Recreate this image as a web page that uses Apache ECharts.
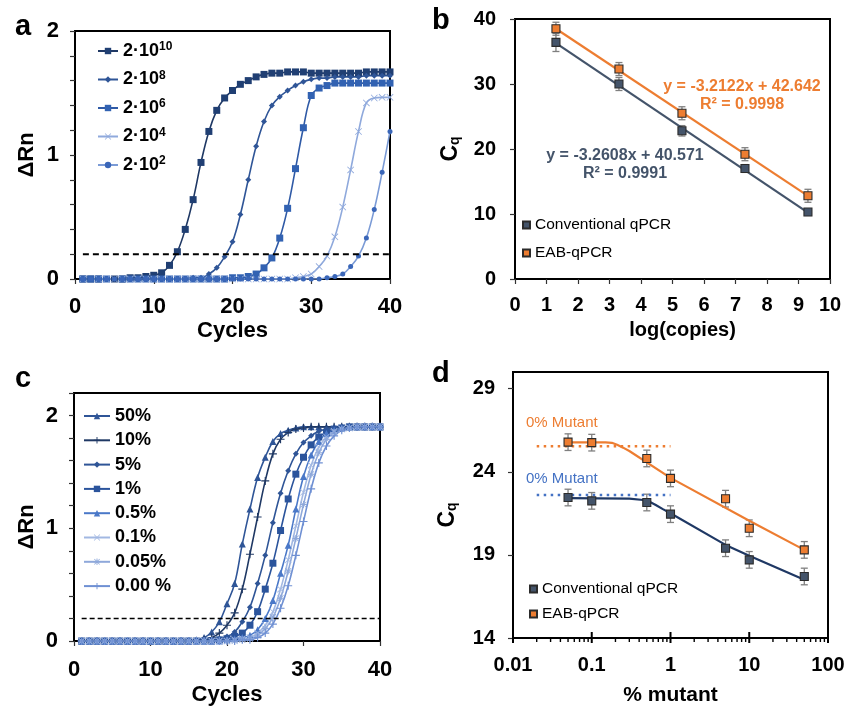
<!DOCTYPE html>
<html>
<head>
<meta charset="utf-8">
<script src="https://cdn.jsdelivr.net/npm/echarts@6/dist/echarts.min.js"></script>
<style>
  html, body { margin: 0; padding: 0; background: #fff; }
  #chart { width: 861px; height: 707px; }
</style>
</head>
<body>
<div id="chart"></div>
<script>
// ---- panel a : amplification curves, serial dilutions ----
const cycles = [1,2,3,4,5,6,7,8,9,10,11,12,13,14,15,16,17,18,19,20,
                21,22,23,24,25,26,27,28,29,30,31,32,33,34,35,36,37,38,39,40];
const aNames = ['2·10^10', '2·10^8', '2·10^6', '2·10^4', '2·10^2'];
const a10 = [0.00,0.00,0.00,-0.01,0.00,0.00,0.01,0.01, 0.02,0.03,0.05,0.11,0.22,0.40,0.64,0.94,
             1.19,1.36,1.46,1.52,1.57,1.60,1.63,1.65, 1.66,1.66,1.67,1.67,1.67,1.66,1.66,1.66,
             1.66,1.66,1.66,1.66,1.67,1.67,1.67,1.67];
const a8  = [0.00,0.00,-0.01,0.00,0.00,0.00,0.00,0.00, 0.00,0.00,0.00,0.00,0.00,0.00,0.01,0.01,
             0.04,0.09,0.18,0.30,0.52,0.80,1.07,1.27, 1.40,1.47,1.52,1.56,1.59,1.61,1.62,1.62,
             1.63,1.63,1.63,1.63,1.64,1.64,1.64,1.64];
const a6  = [0.00,0.00,0.00,0.00,-0.01,0.00,0.00,0.00, 0.00,0.00,0.00,0.00,0.00,0.00,0.00,0.00,
             0.00,0.00,0.00,0.01,0.01,0.02,0.04,0.09, 0.17,0.33,0.57,0.89,1.22,1.48,1.54,1.56,
             1.58,1.58,1.58,1.58,1.58,1.58,1.58,1.58];
const a4  = [0.00,-0.01,0.00,0.00,0.00,0.00,0.00,0.00, 0.00,0.00,0.00,0.00,0.00,0.00,0.00,0.00,
             0.00,0.00,0.00,0.00,0.00,0.00,0.00,0.00, 0.00,0.00,0.00,0.01,0.02,0.04,0.10,0.185,
             0.34,0.58,0.88,1.19,1.42,1.46,1.465,1.465];
const a2  = [0.00,0.00,0.00,0.00,0.00,0.00,0.00,0.00, 0.00,0.00,0.00,0.00,0.00,0.00,0.00,0.00,
             0.00,0.00,0.00,0.00,0.00,0.00,0.00,0.00, 0.00,0.00,0.00,0.00,0.00,0.00,0.00,0.01,
             0.02,0.04,0.10,0.185,0.33,0.56,0.86,1.19];
const threshold = 0.2;

// ---- panel b : standard curves ----
const bX       = [1.3, 3.3, 5.3, 7.3, 9.3];
const bConv    = [36.4, 30.0, 22.8, 17.0, 10.3];
const bConvErr = [1.4, 1.0, 0.8, 0.6, 0.3];
const bEab     = [38.5, 32.3, 25.5, 19.2, 12.8];
const bEabErr  = [1.0, 1.0, 1.0, 1.0, 1.0];
const bFitX    = [1.3, 9.3];
const bConvFit = [36.3, 10.2];
const bEabFit  = [38.5, 12.8];

// ---- panel c : mutant fraction amplification curves ----
const cNames = ['50%', '10%', '5%', '1%', '0.5%', '0.1%', '0.05%', '0.00 %'];
const c50  = [0,0,0,0,0,0,0,0, 0,0,0,0,0,0,0.00,0.01,
              0.03,0.08,0.17,0.33,0.51,0.86,1.17,1.45, 1.63,1.77,1.84,1.87,1.89,1.90,1.90,1.90,
              1.90,1.90,1.90,1.90,1.90,1.90,1.90,1.90];
const c10  = [0,0,0,0,0,0,0,0, 0,0,0,0,0,0,0,0,
              0.01,0.03,0.07,0.14,0.25,0.46,0.77,1.10, 1.42,1.66,1.79,1.85,1.88,1.89,1.90,1.90,
              1.90,1.90,1.90,1.90,1.90,1.90,1.90,1.90];
const c5   = [0,0,0,0,0,0,0,0, 0,0,0,0,0,0,0,0,
              0.00,0.01,0.02,0.04,0.08,0.17,0.30,0.51, 0.76,1.05,1.31,1.51,1.66,1.76,1.82,1.86,
              1.88,1.89,1.90,1.90,1.90,1.90,1.90,1.90];
const c1   = [0,0,0,0,0,0,0,0, 0,0,0,0,0,0,0,0,
              0.00,0.00,0.01,0.02,0.04,0.07,0.14,0.26, 0.46,0.69,0.98,1.26,1.48,1.63,1.74,1.81,
              1.85,1.88,1.89,1.90,1.90,1.90,1.90,1.90];
const c05  = [0,0,0,0,0,0,0,0, 0,0,0,0,0,0,0,0,
              0.00,0.00,0.00,0.01,0.02,0.03,0.05,0.10, 0.20,0.36,0.60,0.85,1.17,1.46,1.65,1.77,
              1.84,1.87,1.89,1.90,1.90,1.90,1.90,1.90];
const c01  = [0,0,0,0,0,0,0,0, 0,0,0,0,0,0,0,0,
              0.00,0.00,0.00,0.00,0.01,0.02,0.03,0.07, 0.14,0.26,0.46,0.72,1.02,1.32,1.56,1.72,
              1.81,1.86,1.88,1.89,1.90,1.90,1.90,1.90];
const c005 = [0,0,0,0,0,0,0,0, 0,0,0,0,0,0,0,0,
              0.00,0.00,0.00,0.00,0.00,0.01,0.02,0.05, 0.11,0.21,0.38,0.62,0.91,1.21,1.48,1.67,
              1.79,1.85,1.88,1.89,1.90,1.90,1.90,1.90];
const c000 = [0,0,0,0,0,0,0,0, 0,0,0,0,0,0,0,0,
              0.00,0.00,0.00,0.00,0.00,0.01,0.01,0.03, 0.07,0.15,0.29,0.49,0.76,1.06,1.35,1.58,
              1.73,1.82,1.87,1.89,1.90,1.90,1.90,1.90];

// ---- panel d : Cq vs % mutant ----
const dX       = [0.05, 0.1, 0.5, 1, 5, 10, 50];
const dConv    = [22.45, 22.25, 22.15, 21.45, 19.4, 18.7, 17.7];
const dConvErr = [0.5, 0.5, 0.5, 0.5, 0.5, 0.5, 0.5];
const dEab     = [25.78, 25.75, 24.8, 23.6, 22.38, 20.6, 19.3];
const dEabErr  = [0.5, 0.5, 0.5, 0.5, 0.5, 0.5, 0.5];
const dConvFitX = [0.05, 0.3, 0.45, 0.55, 0.65, 0.8, 1, 5, 10, 50];
const dConvFitY = [22.41, 22.38, 22.3, 22.18, 22.0, 21.75, 21.5, 19.6, 18.95, 17.5];
const dEabFitX  = [0.05, 0.15, 0.18, 0.21, 0.25, 0.3, 1, 10, 50];
const dEabFitY  = [25.77, 25.77, 25.74, 25.62, 25.45, 25.25, 23.63, 21.05, 19.3];
const dZeroX    = [0.02, 1];
const dZeroEab  = 25.53;
const dZeroConv = 22.6;
const dMajorTicks = [0.01, 0.1, 1, 10, 100];
const dMinorMult  = [2, 3, 4, 5, 6, 7, 8, 9];

const FONT = '"Liberation Sans", Arial, sans-serif';
const BLUE_SLATE = '#44546a';
const ORANGE = '#ed7d31';

const SYM_PLUS = 'path://M4.3,0H5.7V10H4.3Z M0,4.3H10V5.7H0Z';
const SYM_X = 'path://M0.8,0L10,9.2L9.2,10L0,0.8Z M9.2,0L10,0.8L0.8,10L0,9.2Z';
const SYM_STAR = 'path://M4.3,0H5.7V10H4.3Z M0,4.3H10V5.7H0Z M1.2,0.4L9.6,8.8L8.8,9.6L0.4,1.2Z M8.8,0.4L9.6,1.2L1.2,9.6L0.4,8.8Z';

function pairs(xs, ys) { return xs.map((x, i) => [x, ys[i]]); }

function curve(name, idx, ys, lineColor, symColor, symbol, size) {
  return {
    name: name, type: 'line', xAxisIndex: idx, yAxisIndex: idx,
    data: pairs(cycles, ys), smooth: 0.4,
    symbol: symbol, symbolSize: size,
    lineStyle: { color: lineColor, width: 1.6 },
    itemStyle: { color: symColor },
    z: 3
  };
}

function errBars(idx, xs, ys, es) {
  return {
    type: 'custom', xAxisIndex: idx, yAxisIndex: idx, z: 2,
    data: xs.map((x, i) => [x, ys[i] - es[i], ys[i] + es[i]]),
    renderItem: function (params, api) {
      const lo = api.coord([api.value(0), api.value(1)]);
      const hi = api.coord([api.value(0), api.value(2)]);
      const w = 3.5;
      const st = { stroke: '#7f7f7f', lineWidth: 1.3 };
      return { type: 'group', children: [
        { type: 'line', shape: { x1: lo[0], y1: lo[1], x2: hi[0], y2: hi[1] }, style: st },
        { type: 'line', shape: { x1: lo[0] - w, y1: lo[1], x2: lo[0] + w, y2: lo[1] }, style: st },
        { type: 'line', shape: { x1: hi[0] - w, y1: hi[1], x2: hi[0] + w, y2: hi[1] }, style: st }
      ]};
    }
  };
}

function points(name, idx, xs, ys, color) {
  return {
    name: name, type: 'scatter', xAxisIndex: idx, yAxisIndex: idx,
    data: pairs(xs, ys), symbol: 'rect', symbolSize: 8,
    itemStyle: { color: color, borderColor: '#2b2b2b', borderWidth: 1.1, opacity: 1 },
    z: 5
  };
}

function fitLine(idx, xs, ys, color, smooth) {
  return {
    type: 'line', xAxisIndex: idx, yAxisIndex: idx, data: pairs(xs, ys),
    symbol: 'none', smooth: smooth || false, smoothMonotone: 'x',
    lineStyle: { color: color, width: 2.2, join: 'round' }, z: 4, silent: true
  };
}

const axisLine = { lineStyle: { color: '#000', width: 2 } };
const tickOut = { show: true, inside: false, length: 5, lineStyle: { color: '#333', width: 1.2 } };
function lbl(size, margin, extra) {
  return Object.assign({ color: '#000', fontSize: size, fontWeight: 'bold', fontFamily: FONT, margin: margin }, extra || {});
}
function nameStyle(size, extra) {
  return Object.assign({ color: '#000', fontSize: size, fontWeight: 'bold', fontFamily: FONT }, extra || {});
}
const intOnly = v => (Math.abs(v - Math.round(v)) < 1e-6 ? String(Math.round(v)) : '');
const cqRich = { sub: { fontSize: 14, fontWeight: 'bold', fontFamily: FONT, color: '#000', verticalAlign: 'bottom', padding: [9, 0, 0, 0] } };

const gridBox = { show: true, borderColor: '#000', borderWidth: 2, backgroundColor: 'transparent' };

const chart = echarts.init(document.getElementById('chart'));

const option = {
  animation: false,
  backgroundColor: '#fff',
  textStyle: { fontFamily: FONT },
  grid: [
    Object.assign({ left: 75, top: 31, width: 315, height: 248 }, gridBox),
    Object.assign({ left: 515, top: 19, width: 315, height: 260 }, gridBox),
    Object.assign({ left: 74, top: 393, width: 306, height: 249 }, gridBox),
    Object.assign({ left: 513, top: 372, width: 315, height: 271 }, gridBox)
  ],
  xAxis: [
    { gridIndex: 0, type: 'value', min: 0, max: 40, interval: 10, axisLine: axisLine, axisTick: tickOut,
      splitLine: { show: false }, axisLabel: lbl(22, 17),
      name: 'Cycles', nameLocation: 'middle', nameGap: 41, nameTextStyle: nameStyle(22) },
    { gridIndex: 1, type: 'value', min: 0, max: 10, interval: 1, axisLine: axisLine, axisTick: tickOut,
      splitLine: { show: false }, axisLabel: lbl(20, 16),
      name: 'log(copies)', nameLocation: 'middle', nameGap: 41, nameTextStyle: nameStyle(20, { padding: [0, 0, 0, 20] }) },
    { gridIndex: 2, type: 'value', min: 0, max: 40, interval: 10, axisLine: axisLine, axisTick: tickOut,
      splitLine: { show: false }, axisLabel: lbl(22, 18),
      name: 'Cycles', nameLocation: 'middle', nameGap: 43, nameTextStyle: nameStyle(22) },
    { gridIndex: 3, type: 'log', logBase: 10, min: 0.01, max: 100, axisLine: axisLine,
      axisTick: { show: false }, splitLine: { show: false }, minorSplitLine: { show: false },
      axisLabel: lbl(20, 17, { formatter: v => String(+Number(v).toPrecision(3)) }),
      name: '% mutant', nameLocation: 'middle', nameGap: 47, nameTextStyle: nameStyle(21) }
  ],
  yAxis: [
    { gridIndex: 0, type: 'value', min: 0, max: 2, interval: 0.2, axisLine: axisLine, axisTick: tickOut,
      splitLine: { show: false }, axisLabel: lbl(22, 16, { formatter: intOnly }),
      name: 'ΔRn', nameLocation: 'middle', nameGap: 37, nameTextStyle: nameStyle(22) },
    { gridIndex: 1, type: 'value', min: 0, max: 40, interval: 10, axisLine: axisLine, axisTick: tickOut,
      splitLine: { show: false }, axisLabel: lbl(20, 19),
      name: 'C{sub|q}', nameLocation: 'middle', nameGap: 53, nameTextStyle: nameStyle(23, { rich: cqRich }) },
    { gridIndex: 2, type: 'value', min: 0, max: 2.2, interval: 0.2, axisLine: axisLine, axisTick: tickOut,
      splitLine: { show: false }, axisLabel: lbl(22, 16, { formatter: intOnly }),
      name: 'ΔRn', nameLocation: 'middle', nameGap: 36, nameTextStyle: nameStyle(22, { padding: [0, 20, 0, 0] }) },
    { gridIndex: 3, type: 'value', min: 14, max: 30, interval: 5, axisLine: axisLine,
      axisTick: Object.assign({}, tickOut, { customValues: [14, 19, 24, 29] }),
      splitLine: { show: false }, axisLabel: lbl(20, 18, { customValues: [14, 19, 24, 29] }),
      name: 'C{sub|q}', nameLocation: 'middle', nameGap: 54, nameTextStyle: nameStyle(23, { rich: cqRich, padding: [0, 20, 0, 0] }) }
  ],
  legend: [
    { data: aNames, left: 92, top: 36, orient: 'vertical', selectedMode: false,
      itemWidth: 20, itemHeight: 8, itemGap: 8.5,
      formatter: n => n.replace(/\^(\d+)/, '{sup|$1}'),
      textStyle: { color: '#000', fontSize: 18, fontWeight: 'bold', fontFamily: FONT, lineHeight: 20,
        rich: { sup: { fontSize: 12, fontWeight: 'bold', fontFamily: FONT, color: '#000', verticalAlign: 'top', lineHeight: 12, padding: [0, 0, 6, 0] } } } },
    { data: ['Conventional qPCR', 'EAB-qPCR'], left: 517, top: 211, orient: 'vertical', selectedMode: false,
      icon: 'rect', itemWidth: 7, itemHeight: 7, itemGap: 10,
      textStyle: { color: '#000', fontSize: 15.5, fontFamily: FONT, lineHeight: 18 } },
    { data: cNames, left: 78, top: 402, orient: 'vertical', selectedMode: false,
      itemWidth: 26, itemHeight: 8, itemGap: 6.3,
      textStyle: { color: '#000', fontSize: 18, fontWeight: 'bold', fontFamily: FONT, lineHeight: 18 } },
    { data: ['Conventional qPCR', 'EAB-qPCR'], left: 524, top: 575, orient: 'vertical', selectedMode: false,
      icon: 'rect', itemWidth: 7, itemHeight: 7, itemGap: 7,
      textStyle: { color: '#000', fontSize: 15.5, fontFamily: FONT, lineHeight: 18 } }
  ],
  graphic: [
    { type: 'text', left: 15, top: 12, style: { text: 'a', font: 'bold 29px ' + FONT, fill: '#000' } },
    { type: 'text', left: 432, top: 6, style: { text: 'b', font: 'bold 29px ' + FONT, fill: '#000' } },
    { type: 'text', left: 15, top: 364, style: { text: 'c', font: 'bold 29px ' + FONT, fill: '#000' } },
    { type: 'text', left: 432, top: 359, style: { text: 'd', font: 'bold 29px ' + FONT, fill: '#000' } },
    { type: 'text', x: 742, y: 87, style: { text: 'y = -3.2122x + 42.642', font: 'bold 16px ' + FONT, fill: ORANGE, align: 'center', verticalAlign: 'middle' } },
    { type: 'text', x: 742, y: 105, style: { text: 'R² = 0.9998', font: 'bold 16px ' + FONT, fill: ORANGE, align: 'center', verticalAlign: 'middle' } },
    { type: 'text', x: 625, y: 156, style: { text: 'y = -3.2608x + 40.571', font: 'bold 16px ' + FONT, fill: BLUE_SLATE, align: 'center', verticalAlign: 'middle' } },
    { type: 'text', x: 625, y: 174, style: { text: 'R² = 0.9991', font: 'bold 16px ' + FONT, fill: BLUE_SLATE, align: 'center', verticalAlign: 'middle' } },
    { type: 'text', x: 526, y: 423, style: { text: '0% Mutant', font: '15px ' + FONT, fill: ORANGE, verticalAlign: 'middle' } },
    { type: 'text', x: 526, y: 479, style: { text: '0% Mutant', font: '15px ' + FONT, fill: '#4472c4', verticalAlign: 'middle' } }
  ],
  series: [
    // panel a
    curve(aNames[0], 0, a10, '#1f3864', '#203f73', 'rect', 7),
    curve(aNames[1], 0, a8, '#2f5597', '#2f5597', 'diamond', 6),
    curve(aNames[2], 0, a6, '#2f5aa6', '#3262b2', 'rect', 7),
    curve(aNames[3], 0, a4, '#8fa9dc', '#8fa9dc', SYM_X, 7),
    curve(aNames[4], 0, a2, '#7b9bd6', '#3a66b8', 'circle', 5),
    { type: 'line', xAxisIndex: 0, yAxisIndex: 0, data: [[1, threshold], [40, threshold]], symbol: 'none',
      lineStyle: { color: '#000', width: 2, type: [6, 4] }, z: 6, silent: true },

    // panel b
    fitLine(1, bFitX, bConvFit, BLUE_SLATE),
    fitLine(1, bFitX, bEabFit, ORANGE),
    errBars(1, bX, bConv, bConvErr),
    errBars(1, bX, bEab, bEabErr),
    points('Conventional qPCR', 1, bX, bConv, BLUE_SLATE),
    points('EAB-qPCR', 1, bX, bEab, ORANGE),

    // panel c
    curve(cNames[0], 2, c50, '#2f5597', '#2f5597', 'triangle', 7),
    curve(cNames[1], 2, c10, '#1f3864', '#1f3864', SYM_PLUS, 8),
    curve(cNames[2], 2, c5, '#2f5597', '#2f5597', 'diamond', 6),
    curve(cNames[3], 2, c1, '#2b549c', '#2b549c', 'rect', 7),
    curve(cNames[4], 2, c05, '#4a78c8', '#4a78c8', 'triangle', 7),
    curve(cNames[5], 2, c01, '#a2b8e2', '#a2b8e2', SYM_X, 7),
    curve(cNames[6], 2, c005, '#8ea8da', '#8ea8da', SYM_STAR, 7),
    curve(cNames[7], 2, c000, '#6f90d3', '#6f90d3', SYM_PLUS, 8),
    { type: 'line', xAxisIndex: 2, yAxisIndex: 2, data: [[1, threshold], [40, threshold]], symbol: 'none',
      lineStyle: { color: '#000', width: 1.6, type: [5, 3] }, z: 6, silent: true },

    // panel d
    { type: 'line', xAxisIndex: 3, yAxisIndex: 3, data: dZeroX.map(x => [x, dZeroEab]), symbol: 'none',
      lineStyle: { color: ORANGE, width: 2.5, type: [2.5, 4.5] }, z: 3, silent: true },
    { type: 'line', xAxisIndex: 3, yAxisIndex: 3, data: dZeroX.map(x => [x, dZeroConv]), symbol: 'none',
      lineStyle: { color: '#4472c4', width: 2.5, type: [2.5, 4.5] }, z: 3, silent: true },
    fitLine(3, dConvFitX, dConvFitY, '#1f3864'),
    fitLine(3, dEabFitX, dEabFitY, ORANGE),
    errBars(3, dX, dConv, dConvErr),
    errBars(3, dX, dEab, dEabErr),
    points('Conventional qPCR', 3, dX, dConv, BLUE_SLATE),
    points('EAB-qPCR', 3, dX, dEab, ORANGE),
    { // log-axis tick marks (major crossing, minor outside)
      type: 'custom', xAxisIndex: 3, yAxisIndex: 3, z: 7, silent: true,
      data: dMajorTicks.map(v => [v, 14, 1]).concat(
        dMajorTicks.slice(0, 4).reduce((acc, d) => acc.concat(dMinorMult.map(m => [d * m, 14, 0])), [])),
      renderItem: function (params, api) {
        const p = api.coord([api.value(0), api.value(1)]);
        const major = api.value(2) === 1;
        return { type: 'line',
          shape: { x1: p[0], y1: major ? p[1] - 6 : p[1], x2: p[0], y2: p[1] + (major ? 5 : 4) },
          style: { stroke: '#000', lineWidth: major ? 2 : 1.4 } };
      }
    }
  ]
};

chart.setOption(option);
</script>
</body>
</html>
